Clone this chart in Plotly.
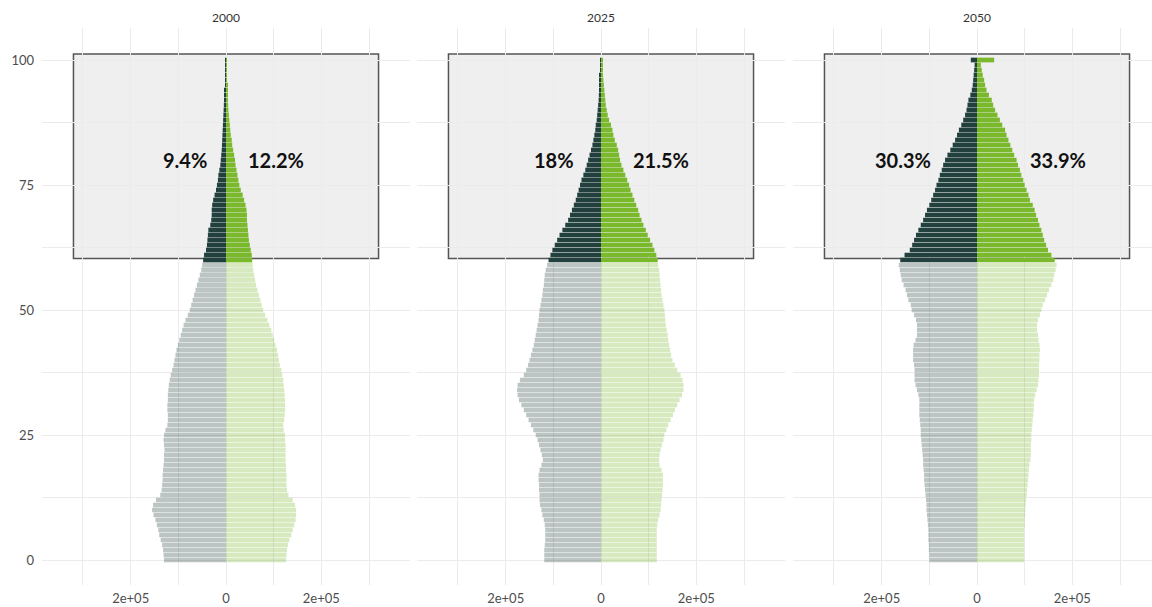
import plotly.graph_objects as go

# Single-year ages 0..100 (100 = 100+)
ages = list(range(101))
years = ["2000", "2025", "2050"]

# Population by single year of age, in thousands
male_2000 = [
    130, 131, 132, 134, 137, 140, 142, 145, 148, 152,
    155, 153, 147, 138, 135, 134, 133, 133, 132, 131,
    130, 130, 129, 130, 131, 130, 127, 123, 122, 122,
    123, 123, 122, 122, 121, 120, 118, 116, 113, 110,
    108, 106, 104, 101, 98, 95, 92, 89, 85, 80,
    76, 73, 70, 67, 64, 61, 58, 55, 52, 50,
    48, 46, 42, 40, 39, 38, 37, 33, 31, 30,
    30, 29, 27, 24, 21, 19, 17, 16, 14, 12,
    11, 10, 9, 8.5, 8, 7.5, 7, 6.5, 6, 5.5,
    5, 4.5, 4, 3, 2.5, 2, 1, 0.6, 0.4, 0.3, 0.2]
female_2000 = [
    126, 127, 128, 130, 133, 137, 140, 143, 146, 147,
    147, 145, 140, 131, 128, 127, 127, 127, 126, 126,
    125, 125, 125, 125, 124, 124, 121, 120, 122, 123,
    124, 124, 124, 123, 122, 121, 120, 118, 116, 113,
    111, 109, 107, 104, 101, 98, 95, 91, 87, 82,
    78, 75, 72, 69, 66, 63, 61, 59, 57, 56,
    55, 54, 52, 50, 48, 47, 46, 45, 44, 44,
    43, 41, 38, 35, 31, 28, 26, 24, 22, 20,
    19, 17, 15, 13, 12, 10, 9, 8, 7, 6,
    5, 4.5, 4, 3.5, 3, 2.5, 2, 1.5, 1, 0.6, 0.4]
male_2025 = [
    119, 119, 119, 118, 117, 117, 117, 118, 120, 123,
    125, 128, 129, 129, 130, 130, 131, 131, 129, 125,
    122, 124, 127, 130, 133, 137, 142, 147, 152, 157,
    162, 167, 172, 175, 176, 175, 170, 162, 157, 153,
    150, 147, 144, 141, 139, 137, 135, 133, 131, 130,
    129, 127, 125, 123, 122, 120, 119, 118, 116, 113,
    110, 106, 102, 97, 92, 87, 81, 75, 69, 65,
    61, 57, 53, 50, 47, 44, 41, 37, 33, 30,
    27, 24, 21, 18, 16, 14, 12, 11, 9, 8,
    7, 6, 5, 4.5, 4, 3.5, 3, 2.5, 2, 1.5, 1.5]
female_2025 = [
    117, 117, 117, 117, 117, 117, 117, 118, 120, 123,
    125, 126, 127, 128, 129, 130, 130, 130, 127, 123,
    122, 123, 125, 128, 131, 133, 137, 141, 146, 151,
    155, 160, 165, 170, 173, 173, 171, 167, 160, 155,
    150, 147, 145, 143, 141, 140, 138, 136, 135, 134,
    133, 131, 129, 127, 126, 125, 124, 123, 122, 120,
    119, 116, 112, 108, 103, 98, 94, 89, 85, 81,
    78, 74, 70, 66, 62, 59, 55, 51, 47, 43,
    40, 38, 36, 33, 29, 26, 24, 21, 17, 14,
    12, 10, 9, 8, 7, 6, 5, 4, 3, 2.5, 2.5]
male_2050 = [
    100, 100, 101, 101, 102, 102, 102, 103, 104, 105,
    106, 106, 107, 108, 109, 110, 111, 111, 112, 113,
    113, 114, 115, 116, 117, 118, 118, 119, 120, 121,
    121, 121, 121, 123, 126, 129, 131, 131, 131, 132,
    134, 134, 134, 133, 129, 126, 126, 126, 128, 132,
    137, 139, 144, 147, 150, 154, 158, 160, 162, 164,
    161, 152, 141, 136, 132, 128, 123, 118, 113, 109,
    105, 100, 96, 92, 88, 85, 81, 78, 74, 71,
    67, 62, 56, 51, 46, 42, 38, 33, 29, 25,
    22, 20, 18, 14, 11, 9, 8, 7, 6, 5, 13]
female_2050 = [
    99, 99, 99, 99, 99, 99, 99, 100, 100, 101,
    101, 102, 103, 104, 105, 106, 107, 108, 109, 110,
    112, 113, 113, 113, 114, 114, 115, 116, 117, 118,
    119, 119, 120, 122, 125, 128, 129, 130, 130, 130,
    131, 131, 132, 131, 129, 128, 126, 126, 128, 132,
    135, 138, 143, 147, 151, 156, 160, 162, 165, 167,
    163, 156, 149, 145, 141, 138, 135, 131, 128, 124,
    121, 117, 111, 108, 104, 100, 97, 93, 90, 86,
    83, 78, 74, 70, 66, 62, 59, 53, 48, 43,
    38, 34, 31, 25, 20, 17, 15, 12, 10, 8, 36]

male = [male_2000, male_2025, male_2050]
female = [female_2000, female_2025, female_2050]

# Share of population aged 60+ (%)
share_60_male = [9.4, 18, 30.3]
share_60_female = [12.2, 21.5, 33.9]

x_tickvals = [-3e5, -2e5, -1e5, 0, 1e5, 2e5, 3e5]
x_ticktext = ["", "2e+05", "", "0", "", "2e+05", ""]
y_tickvals = [0, 12.5, 25, 37.5, 50, 62.5, 75, 87.5, 100]
y_ticktext = ["0", "", "25", "", "50", "", "75", "", "100"]

OLD_AGE = 60
LABEL_AGE = 80

DARK = (34, 64, 61)
GREEN = (122, 184, 44)
YOUNG_ALPHA = 0.3


def rgba(c, a):
    return f"rgba({c[0]},{c[1]},{c[2]},{a})"


def bar_colors(base):
    return [rgba(base, 1 if a >= OLD_AGE else YOUNG_ALPHA) for a in ages]


W, H = 1152, 607
ML, MR, MT, MB = 42, 0, 28, 22
plot_w = W - ML - MR
# panel pixel extents (left, right) within the plotting area
panels_px = [(0, 368), (375, 743), (751, 1110)]
px_per_unit = 368 / 7.72e5
x_left = -3.86e5

fig = go.Figure()
grid = "#ebebeb"
tick_font = dict(family="Lato, Open Sans, sans-serif", size=13, color="#4d4d4d")

for i, yr in enumerate(years):
    sfx = "" if i == 0 else str(i + 1)
    xa, ya = "x" + sfx, "y" + sfx
    fig.add_trace(go.Bar(
        y=ages, x=[-v * 1000 for v in male[i]], orientation="h",
        marker=dict(color=bar_colors(DARK), line=dict(width=0)),
        xaxis=xa, yaxis=ya, showlegend=False, hoverinfo="skip"))
    fig.add_trace(go.Bar(
        y=ages, x=[v * 1000 for v in female[i]], orientation="h",
        marker=dict(color=bar_colors(GREEN), line=dict(width=0)),
        xaxis=xa, yaxis=ya, showlegend=False, hoverinfo="skip"))

    p0, p1 = panels_px[i]
    x_right = x_left + (p1 - p0) / px_per_unit
    fig.update_layout(**{
        "xaxis" + sfx: dict(
            domain=[p0 / plot_w, p1 / plot_w], range=[x_left, x_right],
            tickvals=x_tickvals, ticktext=x_ticktext, showgrid=True,
            gridcolor=grid, gridwidth=1, zeroline=False, showline=False,
            ticks="", tickfont=tick_font, ticklabelstandoff=4,
            anchor=ya, fixedrange=True),
        "yaxis" + sfx: dict(
            domain=[0, 1], range=[-5, 106.4], tickvals=y_tickvals,
            ticktext=y_ticktext, showticklabels=(i == 0), showgrid=True,
            gridcolor=grid, gridwidth=1, zeroline=False, showline=False,
            ticks="", tickfont=tick_font, ticklabelstandoff=7,
            anchor=xa, fixedrange=True),
    })

    # 60+ highlight box
    fig.add_shape(type="rect", xref=xa, yref=ya, x0=-3.2e5, x1=3.2e5,
                  y0=60.3, y1=101.2, layer="below",
                  fillcolor="#efefef", line=dict(color="#555555", width=1.5))

    # facet title
    fig.add_annotation(text=yr, xref=xa, yref="paper", x=0, y=1,
                       yshift=11, yanchor="middle", showarrow=False,
                       font=dict(family="Lato, Open Sans, sans-serif",
                                 size=12, color="#333333"))

    # 60+ shares next to the age-80 bars
    lab_font = dict(family="Lato, Open Sans, sans-serif", size=20,
                    color="#111111")
    fig.add_annotation(text=f"<b>{share_60_male[i]:g}%</b>", xref=xa, yref=ya,
                       x=-male[i][LABEL_AGE] * 1000, y=LABEL_AGE,
                       xanchor="right", yanchor="middle", xshift=-12,
                       showarrow=False, font=lab_font)
    fig.add_annotation(text=f"<b>{share_60_female[i]:g}%</b>", xref=xa,
                       yref=ya, x=female[i][LABEL_AGE] * 1000, y=LABEL_AGE,
                       xanchor="left", yanchor="middle", xshift=11,
                       showarrow=False, font=lab_font)

fig.update_layout(
    width=W, height=H, barmode="overlay", bargap=0.06,
    margin=dict(l=ML, r=MR, t=MT, b=MB),
    plot_bgcolor="white", paper_bgcolor="white",
)

fig.write_html("out.html")
